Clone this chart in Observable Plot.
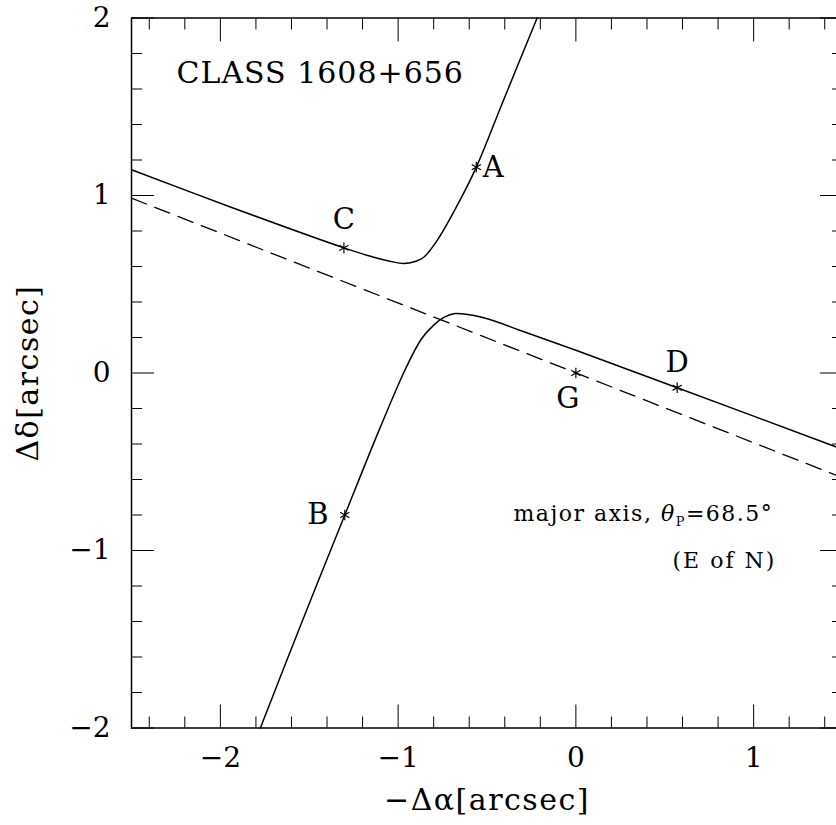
<!DOCTYPE html>
<html><head><meta charset="utf-8">
<script src="https://cdn.jsdelivr.net/npm/d3@7"></script>
<script src="https://cdn.jsdelivr.net/npm/@observablehq/plot@0.6"></script>
<style>
html,body{margin:0;padding:0;background:#fff;overflow:hidden;}
#chart svg{max-width:none !important;}
</style></head><body><div id="chart"></div>
<script>
// Upper branch of the solid curve (−Δα, Δδ in arcsec)
const upperX = [-2.5, -1.94, -1.305, -1.137, -1.04, -0.97, -0.90, -0.856, -0.781, -0.675, -0.56, -0.41, -0.218];
const upperY = [1.145, 0.934, 0.705, 0.652, 0.628, 0.617, 0.630, 0.652, 0.746, 0.93, 1.16, 1.53, 2.0];
// Lower branch of the solid curve
const lowerX = [-1.775, -1.54, -1.30, -1.10, -0.96, -0.87, -0.80, -0.74, -0.68, -0.58, -0.45, -0.312, 0.0, 0.57, 1.5];
const lowerY = [-2.0, -1.40, -0.80, -0.305, 0.02, 0.19, 0.27, 0.315, 0.335, 0.325, 0.29, 0.239, 0.128, -0.083, -0.43];
// Dashed major axis of the lens galaxy
const axisX = [-2.5, 1.5];
const axisY = [0.985, -0.59];
// Lensed images and galaxy
const imgNames = ["A", "B", "C", "D", "G"];
const imgX = [-0.56, -1.30, -1.305, 0.57, 0.0];
const imgY = [1.16, -0.80, 0.705, -0.083, 0.0];
// Tick values
const xMajor = [-2, -1, 0, 1];
const xMinor = [-2.4, -2.2, -1.8, -1.6, -1.4, -1.2, -0.8, -0.6, -0.4, -0.2, 0.2, 0.4, 0.6, 0.8, 1.2, 1.4];
const yMajor = [-2, -1, 0, 1, 2];
const yMinor = [-1.8, -1.6, -1.4, -1.2, -0.8, -0.6, -0.4, -0.2, 0.2, 0.4, 0.6, 0.8, 1.2, 1.4, 1.6, 1.8];
const title = "CLASS 1608+656";
const xLabel = "−Δα[arcsec]";
const yLabel = "Δδ[arcsec]";
const note1 = "major axis, θP=68.5°";
const note2 = "(E of N)";

const upper = upperX.map((x, i) => ({x, y: upperY[i]}));
const lower = lowerX.map((x, i) => ({x, y: lowerY[i]}));
const major = axisX.map((x, i) => ({x, y: axisY[i]}));
const images = imgNames.map((name, i) => ({name, x: imgX[i], y: imgY[i]}));
const fmt = d => d < 0 ? "−" + Math.abs(d) : String(d);

const labelOffset = {A: [17, 1], B: [-27, 0], C: [0, -28], D: [0, -25], G: [-8, 26]};

const FONT = "DejaVu Serif";
const svg = Plot.plot({
  width: 842,
  height: 825,
  marginLeft: 131,
  marginRight: 0,
  marginTop: 17.5,
  marginBottom: 97.5,
  style: {fontFamily: FONT, background: "#fff", color: "#000", maxWidth: "none"},
  x: {domain: [-2.5, 1.5]},
  y: {domain: [-2, 2]},
  marks: [
    Plot.frame({stroke: "#000", strokeWidth: 1.5}),
    Plot.axisX(xMinor, {anchor: "bottom", tickSize: -11, tickFormat: () => "", label: null}),
    Plot.axisX(xMajor, {anchor: "bottom", tickSize: -23, tickFormat: () => "", label: null}),
    Plot.axisX(xMinor, {anchor: "top", tickSize: -11, tickFormat: () => "", label: null}),
    Plot.axisX(xMajor, {anchor: "top", tickSize: -23, tickFormat: () => "", label: null}),
    Plot.axisY(yMinor, {anchor: "left", tickSize: -11, tickFormat: () => "", label: null}),
    Plot.axisY(yMajor, {anchor: "left", tickSize: -23, tickFormat: () => "", label: null}),
    Plot.axisY(yMinor, {anchor: "right", tickSize: -11, tickFormat: () => "", label: null}),
    Plot.axisY(yMajor, {anchor: "right", tickSize: -23, tickFormat: () => "", label: null}),
    Plot.text(xMajor, {x: d => d, frameAnchor: "bottom", dy: 30, text: fmt, fontSize: 28, lineAnchor: "middle"}),
    Plot.text(yMajor, {y: d => d, frameAnchor: "left", dx: -21, text: fmt, fontSize: 28, textAnchor: "end", lineAnchor: "middle"}),
    Plot.text([xLabel], {frameAnchor: "bottom", dy: 72, text: d => d, fontSize: 30, textAnchor: "middle", lineAnchor: "middle"}),
    Plot.text([yLabel], {frameAnchor: "left", dx: -103, rotate: -90, text: d => d, fontSize: 30, textAnchor: "middle", lineAnchor: "middle"}),
    Plot.text([title], {frameAnchor: "top-left", dx: 45, dy: 55, text: d => d, fontSize: 30, textAnchor: "start", lineAnchor: "middle"}),
    Plot.text([note1], {frameAnchor: "top-left", dx: 382, dy: 496, text: d => d, fontSize: 22, textAnchor: "start", lineAnchor: "middle"}),
    Plot.text([note2], {frameAnchor: "top-left", dx: 541, dy: 543, text: d => d, fontSize: 22, textAnchor: "start", lineAnchor: "middle"}),
    Plot.line(major, {x: "x", y: "y", stroke: "#000", strokeWidth: 1.3, strokeDasharray: "16,9"}),
    Plot.line(upper, {x: "x", y: "y", stroke: "#000", strokeWidth: 1.5, curve: "catmull-rom"}),
    Plot.line(lower, {x: "x", y: "y", stroke: "#000", strokeWidth: 1.5, curve: "catmull-rom"}),
    Plot.dot(images, {x: "x", y: "y", symbol: "asterisk", r: 5, stroke: "#000", strokeWidth: 1.2}),
    ...imgNames.map(n => Plot.text(images.filter(d => d.name === n), {
      x: "x", y: "y", text: "name", fontSize: 29, dx: labelOffset[n][0], dy: labelOffset[n][1], lineAnchor: "middle"
    }))
  ]
});
svg.style.maxWidth = "none";

const texts = d3.select(svg).selectAll("text");
texts.filter(function () { return this.textContent === note1; }).each(function () {
  const t = d3.select(this);
  t.text(null);
  t.attr("letter-spacing", "1.5px");
  t.append("tspan").text("major axis, ");
  t.append("tspan").attr("font-style", "italic").text("θ");
  t.append("tspan").attr("font-size", "13px").attr("dy", "5").text("P");
  t.append("tspan").attr("dy", "-5").text("=68.5°");
});
texts.filter(function () { return this.textContent === note2; }).attr("letter-spacing", "2px");
texts.filter(function () { return this.textContent === title; }).attr("letter-spacing", "1px");
texts.filter(function () { return this.textContent === xLabel || this.textContent === yLabel; }).attr("letter-spacing", "1.5px");

document.getElementById("chart").appendChild(svg);
</script>
</body></html>
